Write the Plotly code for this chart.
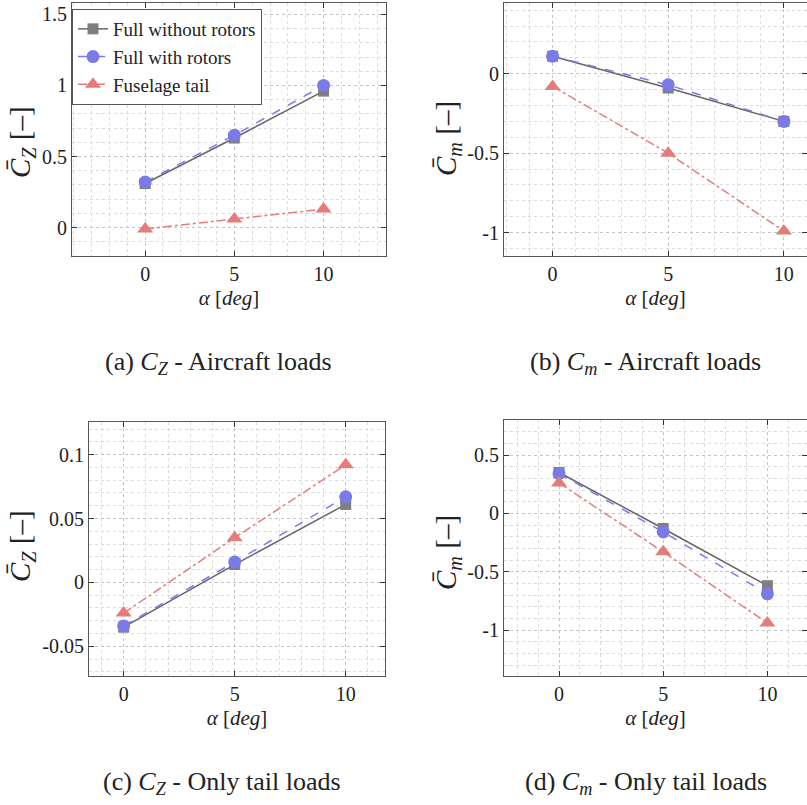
import plotly.graph_objects as go

alpha = [0, 5, 10]

a_without = [0.31, 0.63, 0.96]
a_with = [0.32, 0.65, 1.00]
a_fus = [-0.01, 0.06, 0.13]

b_without = [0.11, -0.09, -0.30]
b_with = [0.11, -0.07, -0.30]
b_fus = [-0.08, -0.50, -0.99]

c_without = [-0.035, 0.014, 0.061]
c_with = [-0.034, 0.016, 0.067]
c_fus = [-0.024, 0.035, 0.092]

d_without = [0.35, -0.13, -0.62]
d_with = [0.34, -0.16, -0.69]
d_fus = [0.26, -0.33, -0.94]

series_names = ["Full without rotors", "Full with rotors", "Fuselage tail"]

x_ticks = [0, 5, 10]
a_yticks = [0, 0.5, 1, 1.5]
a_ytext = ["0", "0.5", "1", "1.5"]
b_yticks = [-1, -0.5, 0]
b_ytext = ["-1", "-0.5", "0"]
c_yticks = [-0.05, 0, 0.05, 0.1]
c_ytext = ["-0.05", "0", "0.05", "0.1"]
d_yticks = [-1, -0.5, 0, 0.5]
d_ytext = ["-1", "-0.5", "0", "0.5"]

ylabel_z = "<i>C̄</i><sub><i>Z</i></sub> [–]"
ylabel_m = "<i>C̄<sub>m</sub></i> [–]"
xlabel = "<i>α</i> [<i>deg</i>]"

captions = [
    "(a) <i>C</i><sub><i>Z</i></sub> - Aircraft loads",
    "(b) <i>C<sub>m</sub></i> - Aircraft loads",
    "(c) <i>C</i><sub><i>Z</i></sub> - Only tail loads",
    "(d) <i>C<sub>m</sub></i> - Only tail loads",
]

FONT = "Liberation Serif"
TXT = "#222222"
GRAY_L = "#666666"
GRAY_M = "#7f7f7f"
BLUE = "#7b7be8"
RED = "#e47c7c"

styles = [
    dict(line=dict(color=GRAY_L, width=1.5, dash="solid"),
         marker=dict(symbol="square", size=11, color=GRAY_M)),
    dict(line=dict(color=BLUE, width=1.5, dash="dash"),
         marker=dict(symbol="circle", size=13, color=BLUE)),
    dict(line=dict(color=RED, width=1.5, dash="dashdot"),
         marker=dict(symbol="triangle-up", size=14, color=RED)),
]

panels = [
    (1, [a_without, a_with, a_fus]),
    (2, [b_without, b_with, b_fus]),
    (3, [c_without, c_with, c_fus]),
    (4, [d_without, d_with, d_fus]),
]

fig = go.Figure()
for idx, data in panels:
    xa = "x" if idx == 1 else f"x{idx}"
    ya = "y" if idx == 1 else f"y{idx}"
    for s, (vals, st) in enumerate(zip(data, styles)):
        fig.add_trace(go.Scatter(
            x=alpha, y=vals, mode="lines+markers",
            name=series_names[s], showlegend=(idx == 1),
            line=st["line"], marker=st["marker"],
            xaxis=xa, yaxis=ya,
        ))

W, H = 807, 805
def dx(a, b):
    return [a / W, b / W]
def dy(top, bottom):
    return [1 - bottom / H, 1 - top / H]

common_axis = dict(
    showline=True, linecolor="#555555", linewidth=1, mirror="allticks",
    ticks="inside", ticklen=5, tickcolor="#333333",
    showgrid=True, gridcolor="#c4c4c4", griddash="dot", gridwidth=1,
    zeroline=False,
    tickfont=dict(family=FONT, size=20, color=TXT),
)

xtitle = dict(text=xlabel, font=dict(family=FONT, size=21, color=TXT), standoff=6)

def xaxis(domain, rng, anchor):
    return dict(common_axis, domain=domain, range=rng, anchor=anchor,
                tickvals=x_ticks, ticktext=[str(t) for t in x_ticks],
                minor=dict(dtick=1, showgrid=True, gridcolor="#dcdcdc", griddash="dot", ticks=""),
                title=xtitle)

def yaxis(domain, rng, anchor, tv, tt, mdt):
    return dict(common_axis, domain=domain, range=rng, anchor=anchor,
                tickvals=tv, ticktext=tt,
                minor=dict(dtick=mdt, tick0=0, showgrid=True, gridcolor="#dcdcdc", griddash="dot", ticks=""))

fig.update_layout(
    width=W, height=H,
    margin=dict(l=0, r=0, t=0, b=0),
    paper_bgcolor="white", plot_bgcolor="white",
    font=dict(family=FONT, color=TXT),
    xaxis=xaxis(dx(72, 386), [-4.1, 13.5], "y"),
    yaxis=yaxis(dy(3, 256), [-0.2, 1.58], "x", a_yticks, a_ytext, 0.1),
    xaxis2=xaxis(dx(504, 807), [-2.1, 11.0], "y2"),
    yaxis2=yaxis(dy(3, 256), [-1.147, 0.445], "x2", b_yticks, b_ytext, 0.1),
    xaxis3=xaxis(dx(89, 385), [-1.56, 11.77], "y3"),
    yaxis3=yaxis(dy(422, 676), [-0.0732, 0.1255], "x3", c_yticks, c_ytext, 0.01),
    xaxis4=xaxis(dx(504, 807), [-2.64, 11.9], "y4"),
    yaxis4=yaxis(dy(420, 676), [-1.394, 0.8], "x4", d_yticks, d_ytext, 0.1),
    legend=dict(
        x=72 / W, y=1 - 9 / H, xanchor="left", yanchor="top",
        bgcolor="white", bordercolor="#555555", borderwidth=1,
        font=dict(family=FONT, size=19, color=TXT),
        tracegroupgap=0, itemwidth=30,
    ),
)

ytitle_pos = [(ylabel_z, 22, 142), (ylabel_m, 448, 139), (ylabel_z, 22, 546), (ylabel_m, 448, 553)]
for text, cx, cy in ytitle_pos:
    fig.add_annotation(text=text, x=cx / W, y=1 - cy / H, xref="paper", yref="paper",
                       showarrow=False, xanchor="center", yanchor="middle", textangle=-90,
                       font=dict(family=FONT, size=29, color=TXT))

cap_pos = [(218, 363), (645, 363), (222, 783), (646, 783)]
for text, (cx, cy) in zip(captions, cap_pos):
    fig.add_annotation(text=text, x=cx / W, y=1 - cy / H, xref="paper", yref="paper",
                       showarrow=False, xanchor="center", yanchor="middle",
                       font=dict(family=FONT, size=26, color=TXT))

fig.write_html("out.html")
